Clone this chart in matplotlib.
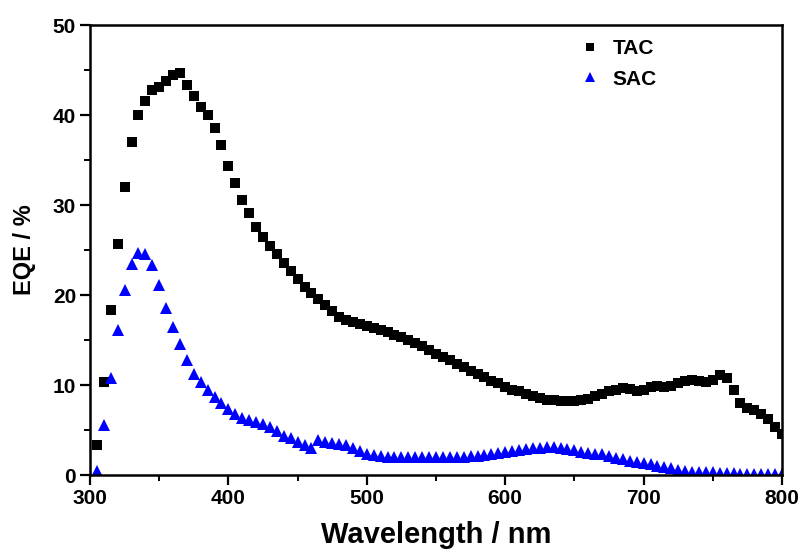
import matplotlib
matplotlib.use("Agg")
import matplotlib.pyplot as plt
import numpy as np

# EQE spectra, 5 nm steps from 305 to 800 nm
wavelength = np.arange(305, 801, 5)

tac = [
    3.4, 10.4, 18.4, 25.7, 32.0, 37.0, 40.0, 41.6, 42.8, 43.1,
    43.8, 44.4, 44.7, 43.3, 42.1, 40.9, 40.0, 38.6, 36.7, 34.3,
    32.4, 30.6, 29.1, 27.6, 26.5, 25.5, 24.6, 23.6, 22.7, 21.8,
    20.9, 20.2, 19.6, 18.9, 18.2, 17.6, 17.2, 17.0, 16.8, 16.6,
    16.4, 16.1, 15.9, 15.6, 15.3, 15.0, 14.7, 14.3, 13.9, 13.5,
    13.1, 12.8, 12.4, 12.0, 11.6, 11.2, 10.9, 10.5, 10.2, 9.8,
    9.5, 9.3, 9.0, 8.8, 8.6, 8.4, 8.3, 8.2, 8.2, 8.2,
    8.3, 8.5, 8.8, 9.0, 9.3, 9.5, 9.7, 9.6, 9.3, 9.5,
    9.8, 9.9, 9.8, 9.9, 10.2, 10.5, 10.6, 10.5, 10.4, 10.6,
    11.1, 10.8, 9.5, 8.0, 7.5, 7.2, 6.8, 6.2, 5.4, 4.6,
]

sac = [
    0.5, 5.6, 10.8, 16.1, 20.6, 23.5, 24.7, 24.6, 23.3, 21.1,
    18.6, 16.5, 14.6, 12.8, 11.2, 10.3, 9.5, 8.7, 8.0, 7.3,
    6.8, 6.4, 6.1, 5.9, 5.7, 5.4, 4.9, 4.4, 4.1, 3.7,
    3.4, 3.0, 3.9, 3.7, 3.6, 3.5, 3.3, 3.0, 2.7, 2.4,
    2.2, 2.1, 2.0, 2.0, 2.0, 2.0, 2.0, 2.0, 2.0, 2.0,
    2.0, 2.0, 2.0, 2.0, 2.1, 2.1, 2.2, 2.3, 2.5, 2.6,
    2.7, 2.8, 2.9, 3.0, 3.0, 3.1, 3.1, 3.0, 2.9, 2.8,
    2.6, 2.5, 2.4, 2.3, 2.1, 1.9, 1.8, 1.6, 1.5, 1.4,
    1.2, 1.0, 0.9, 0.8, 0.6, 0.5, 0.4, 0.4, 0.3, 0.3,
    0.2, 0.2, 0.2, 0.1, 0.1, 0.1, 0.1, 0.1, 0.1, 0.1,
]

plt.rcParams["font.family"] = ["Liberation Sans", "DejaVu Sans"]
plt.rcParams["font.weight"] = "bold"

fig = plt.figure(figsize=(8.07, 5.57), dpi=100)
ax = fig.add_axes([0.1115, 0.147, 0.8575, 0.808])

ax.plot(wavelength, tac, "s", color="black", ms=6.5, mew=0, label="TAC")
ax.plot(wavelength, sac, "^", color="blue", ms=9, mew=0, label="SAC")

ax.set_xlim(300, 800)
ax.set_ylim(0, 50)
ax.set_xticks(np.arange(300, 801, 100))
ax.set_xticks(np.arange(350, 800, 100), minor=True)
ax.set_yticks(np.arange(0, 51, 10))
ax.set_yticks(np.arange(5, 50, 10), minor=True)

ax.tick_params(which="major", direction="out", length=7, width=1.6,
               labelsize=15, pad=3)
ax.tick_params(which="minor", direction="out", length=4, width=1.4)
for lab in ax.get_xticklabels() + ax.get_yticklabels():
    lab.set_fontweight("bold")
for sp in ax.spines.values():
    sp.set_linewidth(1.8)

ax.set_xlabel("Wavelength / nm", fontsize=21, fontweight="bold", labelpad=9)
ax.set_ylabel("EQE / %", fontsize=17, fontweight="bold", labelpad=12)

leg = ax.legend(loc="upper left", bbox_to_anchor=(0.68, 1.01), frameon=False,
                fontsize=15, handletextpad=0.6, labelspacing=0.55,
                handlelength=1.0, markerscale=0.85)
for t in leg.get_texts():
    t.set_fontweight("bold")

fig.savefig("out.png", dpi=100)
